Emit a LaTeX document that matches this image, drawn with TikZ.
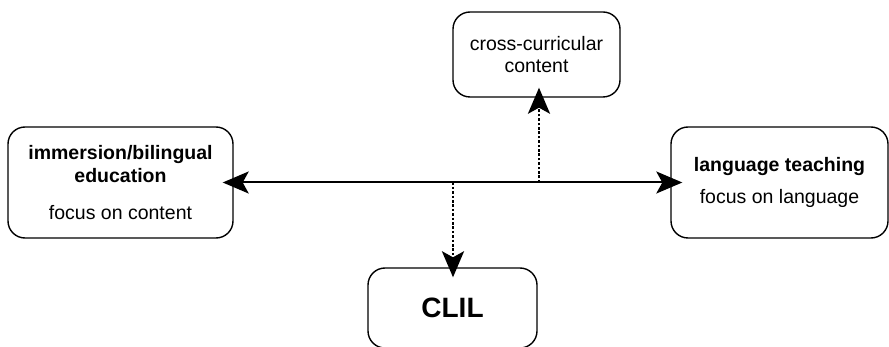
\documentclass[tikz,border=0pt]{standalone}
\usepackage{fontspec}
\setmainfont{Liberation Sans}
\usetikzlibrary{arrows.meta}
\begin{document}
\begin{tikzpicture}[x=1pt,y=-1pt,
  box/.style={draw=black,line width=1.4pt,rounded corners=17pt,inner sep=0pt,align=center,
    font=\fontsize{19.5}{23.5}\selectfont},
  tip/.style={-{Stealth[length=26pt,width=22pt,inset=6pt]}},
  solidarrow/.style={line width=2pt,{Stealth[length=26pt,width=22pt,inset=6pt]}-{Stealth[length=26pt,width=22pt,inset=6pt]},shorten <=-11pt,shorten >=-12pt},
  dotarrow/.style={line width=2.8pt,dash pattern=on 2.6pt off 1.8pt,tip,shorten >=-10pt}]
\useasboundingbox (0,0) rectangle (889,347);
\clip (0,0) rectangle (889,347);
\node[box,minimum width=225pt,minimum height=111pt] (imm) at (120.5,182.5)
  {\textbf{immersion/bilingual}\\\textbf{education}\\[13pt]focus on content};
\node[box,minimum width=217pt,minimum height=111pt] (lang) at (779.5,182.5)
  {\textbf{language teaching}\\[8.5pt]focus on language};
\node[box,minimum width=167pt,minimum height=85pt,font=\fontsize{19.5}{22}\selectfont] (cross) at (536.5,54.5)
  {cross-curricular\\content};
\node[box,minimum width=169pt,minimum height=80pt,font=\fontsize{28}{34}\selectfont\bfseries] (clil) at (452.5,308)
  {CLIL};
\draw[solidarrow] (imm.east) -- (lang.west);
\coordinate (d1) at (453,182.5);
\coordinate (d2) at (539,182.5);
\draw[dotarrow] (d1) -- (d1 |- clil.north);
\draw[dotarrow] (d2) -- (d2 |- cross.south);
\end{tikzpicture}
\end{document}
